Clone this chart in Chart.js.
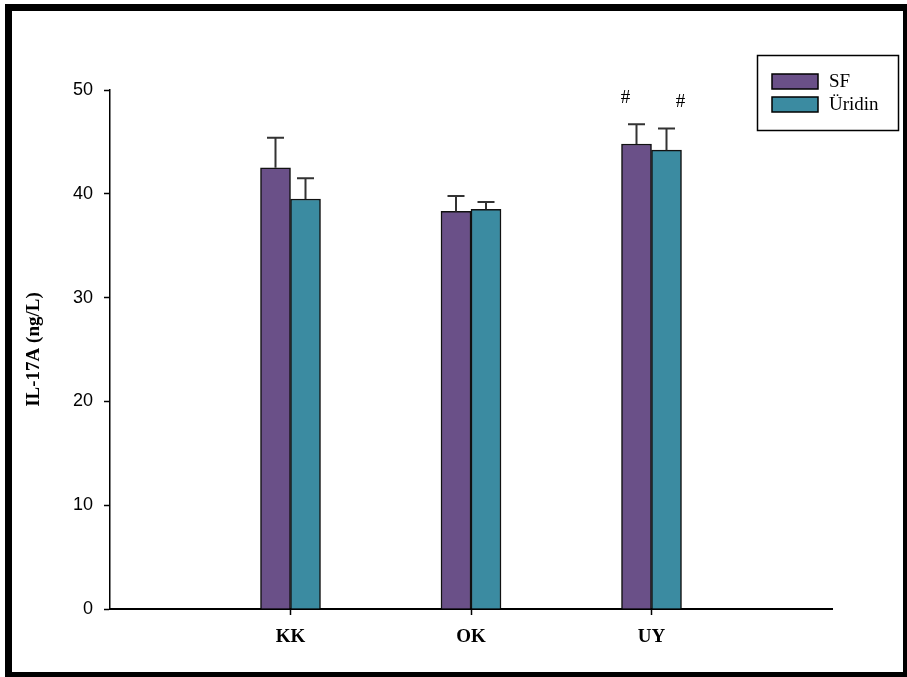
<!DOCTYPE html>
<html>
<head>
<meta charset="utf-8">
<script src="https://cdn.jsdelivr.net/npm/chart.js@4.4.1/dist/chart.umd.min.js"></script>
<style>
  html, body { margin: 0; padding: 0; background: #fff; }
  #wrap { width: 907px; height: 677px; position: relative; }
</style>
</head>
<body>
<div id="wrap"><canvas id="c" width="907" height="677"></canvas></div>
<script>
// IL-17A levels per group, mean with standard error
const categories = ['KK', 'OK', 'UY'];
const seriesNames = ['SF', 'Üridin'];
const sfValues = [42.5, 38.3, 44.8];
const sfErrors = [2.9, 1.5, 1.9];
const uridinValues = [39.5, 38.5, 44.2];
const uridinErrors = [2.0, 0.7, 2.1];
const sfMarks = ['', '', '#'];
const uridinMarks = ['', '', '#'];
const yTicks = [0, 10, 20, 30, 40, 50];

// empty slots at both ends leave room on either side of the groups
const labels = ['', ...categories, ''];
const pad = arr => [null, ...arr, null];

const serif = '"Liberation Serif", "Times New Roman", serif';
const sans = '"Liberation Sans", Arial, sans-serif';

const errorBars = {
  id: 'errorBars',
  afterDatasetsDraw(chart) {
    const ctx = chart.ctx;
    const y = chart.scales.y;
    chart.data.datasets.forEach((ds, di) => {
      const meta = chart.getDatasetMeta(di);
      meta.data.forEach((bar, i) => {
        const v = ds.data[i];
        if (v == null) return;
        const top = y.getPixelForValue(v + ds.errors[i]);
        ctx.save();
        ctx.strokeStyle = '#333';
        ctx.lineWidth = 2;
        ctx.beginPath();
        ctx.moveTo(bar.x, bar.y);
        ctx.lineTo(bar.x, top);
        ctx.moveTo(bar.x - 8.5, top);
        ctx.lineTo(bar.x + 8.5, top);
        ctx.stroke();
        const mark = ds.marks[i];
        if (mark) {
          ctx.fillStyle = '#000';
          ctx.font = '19px ' + serif;
          ctx.textAlign = 'center';
          ctx.textBaseline = 'middle';
          ctx.fillText(mark, bar.x + ds.markShift, top - 26);
        }
        ctx.restore();
      });
    });
  }
};

const frameAndLegend = {
  id: 'frameAndLegend',
  afterDraw(chart) {
    const ctx = chart.ctx;
    ctx.save();
    // outer frame
    ctx.fillStyle = '#000';
    ctx.fillRect(5, 4, 902, 7);
    ctx.fillRect(5, 4, 7, 673);
    ctx.fillRect(903, 4, 4, 673);
    ctx.fillRect(5, 672, 902, 5);
    // legend box
    ctx.lineWidth = 1.5;
    ctx.strokeStyle = '#000';
    ctx.strokeRect(757.5, 55.5, 141, 75);
    chart.data.datasets.forEach((ds, i) => {
      const sy = 74 + i * 23;
      ctx.fillStyle = ds.backgroundColor;
      ctx.fillRect(772, sy, 46, 15);
      ctx.lineWidth = 1.5;
      ctx.strokeRect(772, sy, 46, 15);
      ctx.fillStyle = '#000';
      ctx.font = '19px ' + serif;
      ctx.textAlign = 'left';
      ctx.textBaseline = 'middle';
      ctx.fillText(ds.label, 829, sy + 8);
    });
    ctx.restore();
  }
};

new Chart(document.getElementById('c'), {
  type: 'bar',
  data: {
    labels: labels,
    datasets: [
      { label: seriesNames[0], data: pad(sfValues), errors: pad(sfErrors), marks: pad(sfMarks), markShift: -11,
        backgroundColor: '#6a5088', borderColor: '#111', borderWidth: 1.5 },
      { label: seriesNames[1], data: pad(uridinValues), errors: pad(uridinErrors), marks: pad(uridinMarks), markShift: 14,
        backgroundColor: '#3b8ba1', borderColor: '#111', borderWidth: 1.5 }
    ]
  },
  options: {
    responsive: false,
    animation: false,
    devicePixelRatio: 1,
    layout: { padding: { left: 0, right: 75, top: 90, bottom: 0 } },
    barThickness: 30,
    plugins: { legend: { display: false }, tooltip: { enabled: false } },
    scales: {
      x: {
        offset: false,
        grid: {
          offset: false, drawOnChartArea: false, drawTicks: true, tickLength: 6, tickWidth: 1.5,
          tickColor: c => (c.tick && c.tick.label) ? '#000' : 'rgba(0,0,0,0)'
        },
        border: { color: '#000', width: 2 },
        ticks: { autoSkip: false, maxRotation: 0, padding: 11, color: '#000',
                 font: { family: serif, size: 19, weight: 'bold' } },
        afterFit: s => { s.height = 68; }
      },
      y: {
        min: 0, max: 50,
        afterBuildTicks: s => { s.ticks = yTicks.map(v => ({ value: v })); },
        grid: { drawOnChartArea: false, drawTicks: true, tickLength: 6, tickWidth: 1.5, tickColor: '#000' },
        border: { color: '#000', width: 1.5 },
        ticks: { padding: 11, color: '#000', font: { family: sans, size: 18 } },
        title: { display: true, text: 'IL-17A (ng/L)', color: '#000', padding: { top: 23, bottom: 0 },
                 font: { family: serif, size: 19, weight: 'bold' } },
        afterFit: s => { s.width = 110; }
      }
    }
  },
  plugins: [errorBars, frameAndLegend]
});
</script>
</body>
</html>
